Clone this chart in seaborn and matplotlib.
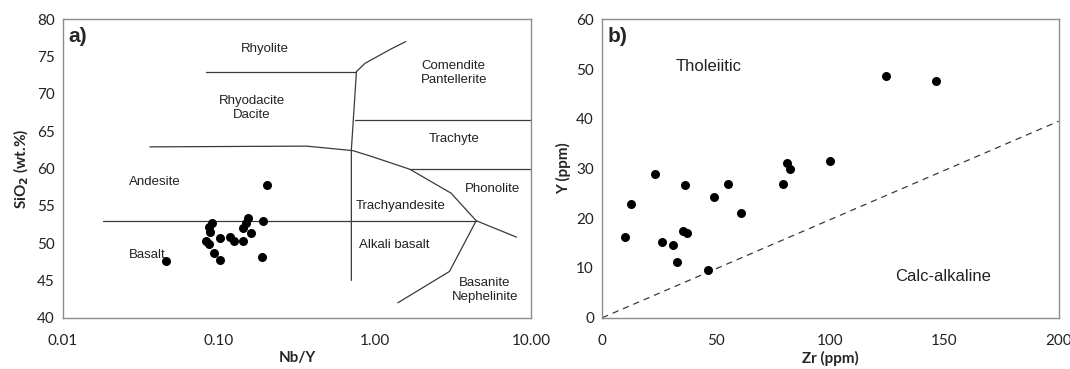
import matplotlib
matplotlib.use("Agg")
import matplotlib.pyplot as plt
from matplotlib.ticker import FixedLocator, FixedFormatter
import seaborn as sns
import pandas as pd

# ---- Panel a: Nb/Y vs SiO2 (Winchester & Floyd classification) ----
nb_y = [0.203, 0.0906, 0.0863, 0.0875, 0.0826, 0.0866, 0.1014, 0.0925, 0.101,
        0.1177, 0.1253, 0.143, 0.1527, 0.149, 0.1425, 0.160, 0.1905, 0.1888, 0.0455]
sio2 = [57.75, 52.65, 52.2, 51.5, 50.3, 49.9, 50.7, 48.7, 47.7,
        50.8, 50.3, 50.3, 53.4, 52.65, 52.0, 51.3, 52.9, 48.1, 47.6]

# field boundaries (Nb/Y, SiO2)
boundaries = [
    ([0.082, 0.76], [73.0, 73.0]),
    ([0.76, 0.863, 1.26, 1.57], [73.0, 74.1, 76.0, 77.0]),
    ([0.76, 0.705, 0.705], [73.0, 62.5, 45.0]),
    ([0.74, 10.0], [66.5, 66.5]),
    ([0.036, 0.364, 0.72, 0.955, 1.67, 3.07, 4.45, 8.07],
     [62.9, 63.0, 62.4, 61.6, 59.9, 56.7, 53.0, 50.8]),
    ([1.67, 10.0], [60.0, 60.0]),
    ([0.0181, 4.45], [53.0, 53.0]),
    ([4.45, 3.0, 1.40], [53.0, 46.2, 42.0]),
]

field_names = ["Rhyolite", "Comendite\nPantellerite", "Rhyodacite\nDacite", "Trachyte",
               "Andesite", "Phonolite", "Trachyandesite", "Alkali basalt", "Basalt",
               "Basanite\nNephelinite"]
field_x = [0.198, 3.2, 0.163, 3.24, 0.0389, 5.66, 1.45, 1.32, 0.0348, 5.06]
field_y = [76.0, 72.8, 68.1, 64.0, 58.2, 57.2, 55.0, 49.8, 48.4, 43.7]

a_xticks = [0.01, 0.1, 1.0, 10.0]
a_xticklabels = ["0.01", "0.10", "1.00", "10.00"]
a_yticks = [40, 45, 50, 55, 60, 65, 70, 75, 80]

# ---- Panel b: Zr vs Y ----
zr = [10.1, 12.4, 23.0, 26.3, 31.0, 32.8, 35.4, 37.2, 36.4, 46.4,
      49.1, 55.3, 61.0, 79.2, 81.1, 82.2, 99.7, 124.3, 146.1]
y_ppm = [16.2, 22.9, 28.8, 15.2, 14.7, 11.3, 17.4, 17.0, 26.6, 9.5,
         24.3, 26.8, 21.0, 26.8, 31.2, 29.8, 31.6, 48.6, 47.6]

divider_zr = [0, 200]
divider_y = [0, 39.5]

b_xticks = [0, 50, 100, 150, 200]
b_yticks = [0, 10, 20, 30, 40, 50, 60]

df_a = pd.DataFrame({"Nb/Y": nb_y, "SiO2": sio2})
df_b = pd.DataFrame({"Zr": zr, "Y": y_ppm})

sns.set_theme(style="white")
plt.rcParams["font.family"] = ["Lato", "DejaVu Sans"]

fig = plt.figure(figsize=(10.70, 3.69), dpi=100)
ax_a = fig.add_axes([0.0589, 0.139, 0.4374, 0.8087])
ax_b = fig.add_axes([0.5629, 0.139, 0.4264, 0.8087])

spine_col = "#8c8c8c"
line_col = "#3a3a3a"
label_font = ["Liberation Sans", "DejaVu Sans"]

def style_axes(ax):
    for s in ax.spines.values():
        s.set_color(spine_col)
        s.set_linewidth(1.0)
    ax.tick_params(axis="both", which="both", direction="in", length=3, width=0.8,
                   color=spine_col, labelsize=11, labelcolor="#222222")
    ax.tick_params(axis="x", pad=12)
    ax.tick_params(axis="y", pad=6)

# Panel a
ax_a.set_xscale("log")
for bx, by in boundaries:
    ax_a.plot(bx, by, color=line_col, lw=0.9, zorder=2)
sns.scatterplot(data=df_a, x="Nb/Y", y="SiO2", ax=ax_a, color="black", s=42,
                edgecolor="black", linewidth=0, zorder=3, legend=False)
for name, fx, fy in zip(field_names, field_x, field_y):
    ax_a.text(fx, fy, name, ha="center", va="center", fontsize=9.5,
              family=label_font, color="#222222", linespacing=1.3)
ax_a.set_xlim(0.01, 10)
ax_a.set_ylim(40, 80)
ax_a.xaxis.set_major_locator(FixedLocator(a_xticks))
ax_a.xaxis.set_major_formatter(FixedFormatter(a_xticklabels))
ax_a.xaxis.set_minor_locator(FixedLocator([]))
ax_a.set_yticks(a_yticks)
ax_a.set_xlabel("Nb/Y", fontsize=11, fontweight="bold", labelpad=2)
ax_a.set_ylabel("SiO$_\\mathbf{2}$ (wt.%)", fontsize=11, fontweight="bold", labelpad=4)
ax_a.text(0.012, 0.975, "a)", transform=ax_a.transAxes, ha="left", va="top",
          fontsize=15, fontweight="bold", family=label_font)
style_axes(ax_a)

# Panel b
ax_b.plot(divider_zr, divider_y, color=line_col, lw=0.9, ls=(0, (5, 4)), zorder=2)
sns.scatterplot(data=df_b, x="Zr", y="Y", ax=ax_b, color="black", s=42,
                edgecolor="black", linewidth=0, zorder=3, legend=False)
ax_b.text(46.8, 50.5, "Tholeiitic", ha="center", va="center", fontsize=12,
          family=label_font, color="#222222")
ax_b.text(149.2, 8.2, "Calc-alkaline", ha="center", va="center", fontsize=12,
          family=label_font, color="#222222")
ax_b.set_xlim(0, 200)
ax_b.set_ylim(0, 60)
ax_b.set_xticks(b_xticks)
ax_b.set_yticks(b_yticks)
ax_b.set_xlabel("Zr (ppm)", fontsize=11, fontweight="bold", labelpad=2)
ax_b.set_ylabel("Y (ppm)", fontsize=11, fontweight="bold", labelpad=4)
ax_b.text(0.012, 0.975, "b)", transform=ax_b.transAxes, ha="left", va="top",
          fontsize=15, fontweight="bold", family=label_font)
style_axes(ax_b)

fig.savefig("out.png", dpi=100, facecolor="white")
